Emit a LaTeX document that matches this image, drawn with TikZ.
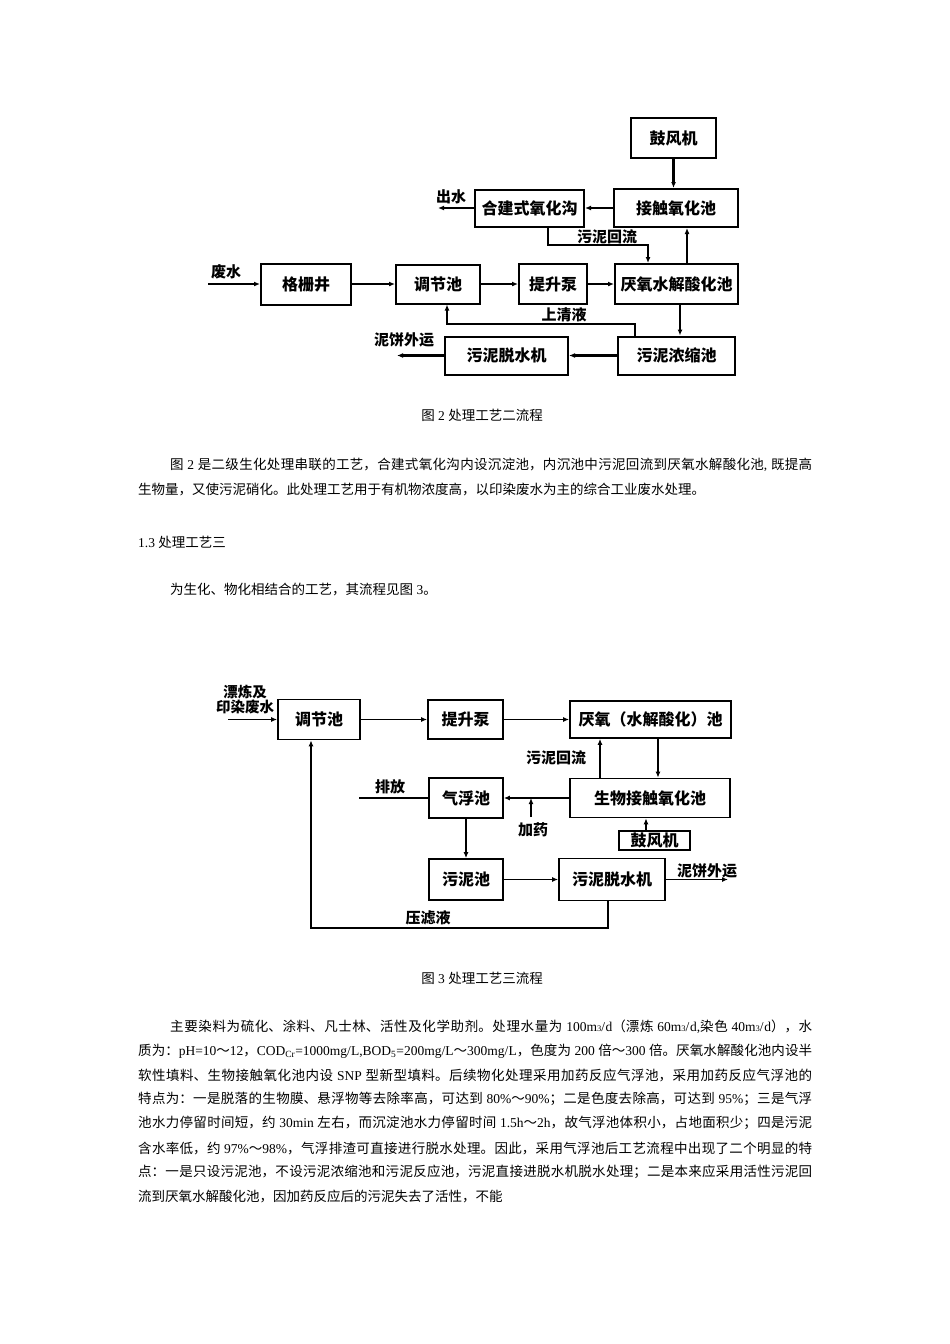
\documentclass[tikz,border=0pt]{standalone}
\usepackage{fontspec}
\setmainfont{Noto Sans CJK SC}
\newfontfamily\lat{Liberation Serif}
\usetikzlibrary{positioning,arrows.meta}
\XeTeXlinebreaklocale "zh"
\XeTeXlinebreakskip=0pt plus 2pt minus 0.6pt
\newcommand{\jline}[2]{\parbox[c]{#1}{\parindent=0pt\parfillskip=0pt\tolerance=10000\pretolerance=10000\relax #2\par}}
\newcommand{\cube}{{\fontsize{8.5pt}{9pt}\selectfont 3}}
\begin{document}
\begin{tikzpicture}[x=1pt,y=-1pt,
  box/.style ={rectangle, draw, black, line width=2pt, inner sep=0pt,
  font=\fontsize{16pt}{17pt}\selectfont\bfseries},
  boxB/.style ={rectangle, draw, black, line width=1.7pt, inner sep=0pt,
  font=\fontsize{16pt}{17pt}\selectfont\bfseries},
  flow/.style ={-{Latex[length=6pt,width=5pt]}, line width=2.2pt},
  flowB/.style ={-{Latex[length=6pt,width=5pt]}, line width=1.7pt},
  tag/.style ={inner sep=0pt, font=\fontsize{15pt}{16pt}\selectfont\bfseries},
  txt/.style ={inner sep=0pt, anchor=west, font=\fontsize{13.5pt}{16pt}\selectfont}]
  \fill[white] (0,0) rectangle (950,1344);
  \useasboundingbox (0,0) rectangle (950,1344);
  % figure 2
  \node[box, minimum width=85pt, minimum height=40pt] (blowerA) at (673.5,138) {鼓风机};
  \node[box, minimum width=124pt, minimum height=38pt] (contactA) at (676,208) {接触氧化池};
  \node[box, minimum width=109pt, minimum height=37pt] (ditchA) at (529.5,208) {合建式氧化沟};
  \node[box, minimum width=90pt, minimum height=41pt] (screenA) at (306,284) {格栅井};
  \node[box, minimum width=84pt, minimum height=39pt] (tankA) at (438,284) {调节池};
  \node[box, minimum width=68pt, minimum height=40pt] (pumpA) at (553,284) {提升泵};
  \node[box, minimum width=123pt, minimum height=40pt] (anaerA) at (676.5,284) {厌氧水解酸化池};
  \node[box, minimum width=117pt, minimum height=38pt] (thickA) at (676.5,355.5) {污泥浓缩池};
  \node[box, minimum width=123pt, minimum height=38pt] (dewaterA) at (506.5,355.5) {污泥脱水机};
  \coordinate (inA) at (208,284);
  \coordinate (outA) at (438,208);
  \coordinate (cakeA) at (397,355.5);
  \coordinate (bendA) at (548,245);
  \coordinate (bendB) at (447,324);
  \draw[flow] (inA) -- (screenA);
  \draw[flow] (screenA) -- (tankA);
  \draw[flow] (tankA) -- (pumpA);
  \draw[flow] (pumpA) -- (anaerA);
  \draw[flow] (blowerA) -- (blowerA |- contactA.north);
  \draw[flow] (contactA) -- (ditchA);
  \draw[flow] (ditchA) -- (outA);
  \draw[flow] (bendA |- ditchA.south) -- (bendA) -| ([xshift=-28.5pt]anaerA.north);
  \draw[flow] ([xshift=10.5pt]anaerA.north) -- ([xshift=10.5pt]anaerA.north |- contactA.south);
  \draw[flow] ([xshift=3.5pt]anaerA.south) -- ([xshift=3.5pt]anaerA.south |- thickA.north);
  \draw[flow] ([xshift=-41.5pt]thickA.north) |- (bendB) -- (bendB |- tankA.south);
  \draw[flow] (thickA) -- (dewaterA);
  \draw[flow] (dewaterA) -- (cakeA);
  \node[tag] (labWasteA) at (226,272) {废水};
  \node[tag] (labOutA) at (451,197) {出水};
  \node[tag] (labReturnA) at (607,237) {污泥回流};
  \node[tag] (labSuper) at (564,315) {上清液};
  \node[tag] (labCakeA) at (404,340) {泥饼外运};
  \node[txt, anchor=center] (capA) at (482,415) {图{\lat\ 2\ }处理工艺二流程};
  % text
  \node[txt] (parA1) at (170,465) {\jline{642pt}{图{\lat\ 2\ }是二级生化处理串联的工艺，合建式氧化沟内设沉淀池，内沉池中污泥回流到厌氧水解酸化池{\lat ,\ }既提高}};
  \node[txt] (parA2) at (138,490) {生物量，又使污泥硝化。此处理工艺用于有机物浓度高，以印染废水为主的综合工业废水处理。};
  \node[txt] (secC) at (138,542) {{\lat 1.3\ }处理工艺三};
  \node[txt] (parB1) at (170,590) {为生化、物化相结合的工艺，其流程见图{\lat\ 3}。};
  % figure 3
  \node[boxB, minimum width=82pt, minimum height=40pt] (tankB) at (319,719.5) {调节池};
  \node[boxB, minimum width=75pt, minimum height=39pt] (pumpB) at (465.5,719.5) {提升泵};
  \node[boxB, minimum width=161pt, minimum height=37pt] (anaerB) at (650.5,719.5) {厌氧（水解酸化）池};
  \node[boxB, minimum width=74pt, minimum height=40pt] (floatB) at (466,798) {气浮池};
  \node[boxB, minimum width=160pt, minimum height=39pt] (bioB) at (650,798) {生物接触氧化池};
  \node[boxB, minimum width=71pt, minimum height=19pt] (blowerB) at (654.5,840.5) {鼓风机};
  \node[boxB, minimum width=74pt, minimum height=41pt] (sludgeB) at (466,879.5) {污泥池};
  \node[boxB, minimum width=106pt, minimum height=42pt] (dewaterB) at (612,879.5) {污泥脱水机};
  \coordinate (inB) at (228,719.5);
  \coordinate (doseB) at (531,817);
  \coordinate (dischB) at (359,798);
  \coordinate (cakeB) at (728,879.5);
  \coordinate (bendC) at (311,928);
  \draw[flowB] (inB) -- (tankB);
  \draw[flowB] (tankB) -- (pumpB);
  \draw[flowB] (pumpB) -- (anaerB);
  \draw[flowB] ([xshift=-50pt]bioB.north) -- ([xshift=-50pt]bioB.north |- anaerB.south);
  \draw[flowB] ([xshift=7.5pt]anaerB.south) -- ([xshift=7.5pt]anaerB.south |- bioB.north);
  \draw[flowB] (bioB) -- (floatB);
  \draw[flowB] (doseB) -- (doseB |- floatB.east);
  \draw[line width=2.6pt] (floatB) -- (dischB);
  \draw[flowB] (floatB) -- (sludgeB);
  \draw[flowB] ([xshift=-8.5pt]blowerB.north) -- ([xshift=-8.5pt]blowerB.north |- bioB.south);
  \draw[flowB] (sludgeB) -- (dewaterB);
  \draw[flowB] (dewaterB) -- (cakeB);
  \draw[flowB] ([xshift=-4pt]dewaterB.south) |- (bendC) -- (bendC |- tankB.south);
  \node[tag, align=center, font=\fontsize{14.5pt}{15pt}\selectfont\bfseries] (labWasteB) at (245,699.5) {漂炼及\\印染废水};
  \node[tag] (labDisch) at (390,787) {排放};
  \node[tag] (labReturnB) at (556,758) {污泥回流};
  \node[tag] (labDose) at (533,830) {加药};
  \node[tag, anchor=south] (labCakeB) at (707,878) {泥饼外运};
  \node[tag] (labPress) at (428,918) {压滤液};
  \node[txt, anchor=center] (capB) at (482,978) {图{\lat\ 3\ }处理工艺三流程};
  % text
  \node[txt] (parC1) at (170,1027) {\jline{642pt}{主要染料为硫化、涂料、凡士林、活性及化学助剂。处理水量为{\lat\ 100m\cube/d}（漂炼{\lat\ 60m\cube/d,}染色{\lat\ 40m\cube/d}），水}};
  \node[txt] (parC2) at (138,1051) {\jline{674pt}{质为：{\lat pH=10}～{\lat 12}，{\lat COD\textsubscript{Cr}=1000mg/L,BOD\textsubscript{5}=200mg/L}～{\lat 300mg/L}，色度为{\lat\ 200\ }倍～{\lat 300\ }倍。厌氧水解酸化池内设半}};
  \node[txt] (parC3) at (138,1075) {\jline{674pt}{软性填料、生物接触氧化池内设{\lat\ SNP\ }型新型填料。后续物化处理采用加药反应气浮池，采用加药反应气浮池的}};
  \node[txt] (parC4) at (138,1099) {\jline{674pt}{特点为：一是脱落的生物膜、悬浮物等去除率高，可达到{\lat\ 80\%}～{\lat 90\%}；二是色度去除高，可达到{\lat\ 95\%}；三是气浮}};
  \node[txt] (parC5) at (138,1123) {\jline{674pt}{池水力停留时间短，约{\lat\ 30min\ }左右，而沉淀池水力停留时间{\lat\ 1.5h}～{\lat 2h}，故气浮池体积小，占地面积少；四是污泥}};
  \node[txt] (parC6) at (138,1148) {\jline{674pt}{含水率低，约{\lat\ 97\%}～{\lat 98\%}，气浮排渣可直接进行脱水处理。因此，采用气浮池后工艺流程中出现了二个明显的特}};
  \node[txt] (parC7) at (138,1172) {\jline{674pt}{点：一是只设污泥池，不设污泥浓缩池和污泥反应池，污泥直接进脱水机脱水处理；二是本来应采用活性污泥回}};
  \node[txt] (parC8) at (138,1196) {流到厌氧水解酸化池，因加药反应后的污泥失去了活性，不能};
\end{tikzpicture}
\end{document}
